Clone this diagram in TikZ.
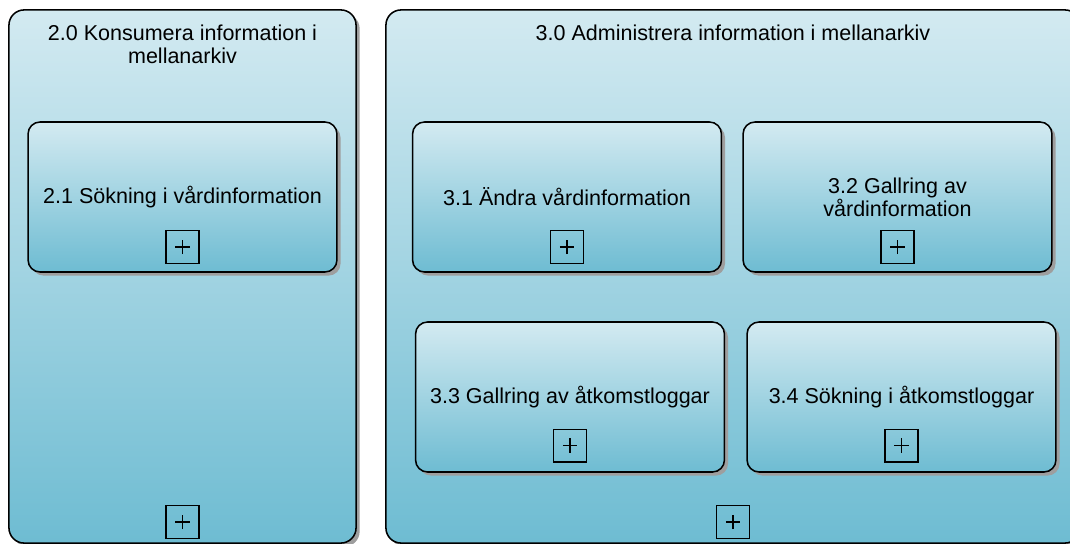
\documentclass[tikz,border=0pt]{standalone}
\usepackage{fontspec}
\setmainfont{Liberation Sans}
\usetikzlibrary{positioning,shadows}
\definecolor{boxTop}{HTML}{D3EAF1}
\definecolor{boxBot}{HTML}{6EBCD2}
\definecolor{shadowGray}{HTML}{9E9E9E}

\begin{document}
\begin{tikzpicture}[x=0.025cm, y=-0.025cm,
    every node/.style={font=\fontsize{15.3}{16.6}\selectfont},
    process/.style={draw, line width=1.1pt, top color=boxTop, bottom color=boxBot,
        drop shadow={shadow xshift=0.09cm, shadow yshift=-0.09cm, fill=shadowGray, opacity=1},
        align=center, inner sep=0pt},
    outerbox/.style={process, rounded corners=0.38cm, minimum height=13.325cm},
    subbox/.style={process, rounded corners=0.3cm, minimum width=7.72cm, minimum height=3.75cm},
    plusbox/.style={draw, line width=1pt, minimum size=0.82cm, inner sep=0pt,
        path picture={\draw[line width=0.9pt]
            ([xshift=-0.18cm]path picture bounding box.center) -- ([xshift=0.18cm]path picture bounding box.center)
            ([yshift=-0.18cm]path picture bounding box.center) -- ([yshift=0.18cm]path picture bounding box.center);}}]

    \useasboundingbox (0,0) rectangle (1070,544);
    \clip (0,0) rectangle (1070,544);

    % Outer processes
    \node[outerbox, minimum width=8.675cm] (P20) at (182.5,276.5) {};
    \node[outerbox, minimum width=17.35cm] (P30) at (733,276.5) {};

    \node[below=0.38cm of P20.north, align=center, inner sep=0pt] (T20) {2.0 Konsumera information i\\mellanarkiv};
    \node[below=0.38cm of P30.north, inner sep=0pt] (T30) {3.0 Administrera information i mellanarkiv};

    \node[plusbox, above=0.12cm of P20.south] (E20) {};
    \node[plusbox, above=0.12cm of P30.south] (E30) {};

    % Sub processes
    \node[subbox] (P21) at (182.5,197) {2.1 Sökning i vårdinformation};
    \node[subbox] (P31) at (567,197) {3.1 Ändra vårdinformation};
    \node[subbox] (P32) at (897.5,197) {3.2 Gallring av\\vårdinformation};
    \node[subbox] (P33) at (570,397) {3.3 Gallring av åtkomstloggar};
    \node[subbox] (P34) at (901.5,397) {3.4 Sökning i åtkomstloggar};

    % Expand markers
    \node[plusbox, above=0.22cm of P21.south] (E21) {};
    \node[plusbox, above=0.22cm of P31.south] (E31) {};
    \node[plusbox, above=0.22cm of P32.south] (E32) {};
    \node[plusbox, above=0.25cm of P33.south] (E33) {};
    \node[plusbox, above=0.25cm of P34.south] (E34) {};
\end{tikzpicture}
\end{document}
